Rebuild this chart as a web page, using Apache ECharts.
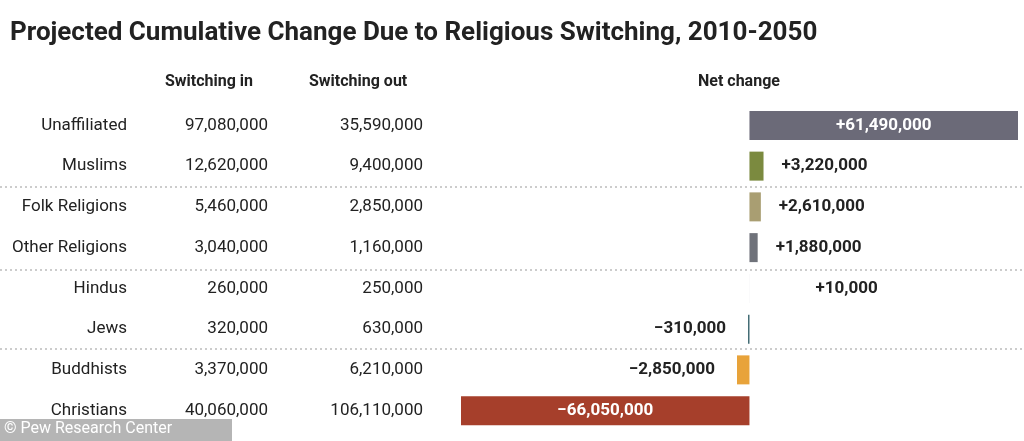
<!DOCTYPE html>
<html lang="en">
<head>
  <meta charset="UTF-8">
  <title>Religious Switching</title>
  <script src="https://cdn.jsdelivr.net/npm/echarts@6/dist/echarts.min.js"></script>
  <style>body{margin:0;background:#fff}</style>
</head>
<body>
<div id="main" style="width:1024px;height:441px;"></div>
<script>
var groups = ['Unaffiliated', 'Muslims', 'Folk Religions', 'Other Religions', 'Hindus', 'Jews', 'Buddhists', 'Christians'];
var switchIn = [97080000, 12620000, 5460000, 3040000, 260000, 320000, 3370000, 40060000];
var switchOut = [35590000, 9400000, 2850000, 1160000, 250000, 630000, 6210000, 106110000];
var netChange = [61490000, 3220000, 2610000, 1880000, 10000, -310000, -2850000, -66050000];
var colors = ['#6b6a78', '#7b8a3f', '#a99e72', '#6f727a', '#8a8f96', '#2f5d66', '#e8a33a', '#a63f2b'];

var FONT = "'Liberation Sans Narrow', 'Roboto', sans-serif";
function fmt(n) { return n.toLocaleString('en-US'); }
function fmtNet(n) { return (n > 0 ? '+' : '\u2212') + fmt(Math.abs(n)); }

var myChart = echarts.init(document.getElementById('main'));

var data = netChange.map(function (v, i) {
  var big = Math.abs(v) > 30000000;
  var tiny = Math.abs(v) < 100000;
  return {
    value: v,
    itemStyle: { color: colors[i] },
    label: {
      show: true,
      position: big ? 'inside' : (v >= 0 ? 'right' : 'left'),
      distance: tiny && v > 0 ? 66 : (v >= 0 ? 18 : 22),
      color: big ? '#fff' : '#222',
      fontWeight: 'bold',
      fontSize: 17,
      fontFamily: FONT,
      formatter: fmtNet(v)
    }
  };
});

myChart.setOption({
  animation: false,
  textStyle: { fontFamily: FONT },
  title: {
    text: 'Projected Cumulative Change Due to Religious Switching, 2010-2050',
    left: 5, top: 15,
    textStyle: { fontSize: 26, fontWeight: 'bold', color: '#222', fontFamily: FONT }
  },
  grid: { left: 461, right: 6, top: 105, bottom: 10 },
  xAxis: {
    type: 'value', min: 'dataMin', max: 'dataMax',
    show: false
  },
  yAxis: {
    type: 'category', inverse: true, data: groups,
    axisLine: { show: false }, axisTick: { show: false },
    axisLabel: {
      margin: 38,
      formatter: function (name, i) {
        return '{n|' + name + '}{a|' + fmt(switchIn[i]) + '}{b|' + fmt(switchOut[i]) + '}';
      },
      rich: {
        n: { width: 127, align: 'right', fontSize: 17, color: '#222', fontFamily: FONT },
        a: { width: 141, align: 'right', fontSize: 17, color: '#222', fontFamily: FONT },
        b: { width: 155, align: 'right', fontSize: 17, color: '#222', fontFamily: FONT }
      }
    }
  },
  graphic: [
    { type: 'text', left: 165, top: 74, style: { text: 'Switching in', font: 'bold 16px ' + FONT, fill: '#222' } },
    { type: 'text', left: 309, top: 74, style: { text: 'Switching out', font: 'bold 16px ' + FONT, fill: '#222' } },
    { type: 'text', left: 698, top: 74, style: { text: 'Net change', font: 'bold 16px ' + FONT, fill: '#222' } },
    { type: 'line', shape: { x1: 0, y1: 187, x2: 1024, y2: 187 }, style: { stroke: '#999', lineDash: [2, 3] } },
    { type: 'line', shape: { x1: 0, y1: 270, x2: 1024, y2: 270 }, style: { stroke: '#999', lineDash: [2, 3] } },
    { type: 'line', shape: { x1: 0, y1: 349, x2: 1024, y2: 349 }, style: { stroke: '#999', lineDash: [2, 3] } },
    { type: 'rect', left: 0, top: 419, shape: { width: 232, height: 22 }, style: { fill: 'rgba(120,120,120,0.55)' } },
    { type: 'text', left: 4, top: 421, style: { text: '\u00a9 Pew Research Center', font: '16px ' + FONT, fill: '#fff' } }
  ],
  series: [{
    type: 'bar',
    barWidth: 29,
    data: data
  }]
});
</script>
</body>
</html>
